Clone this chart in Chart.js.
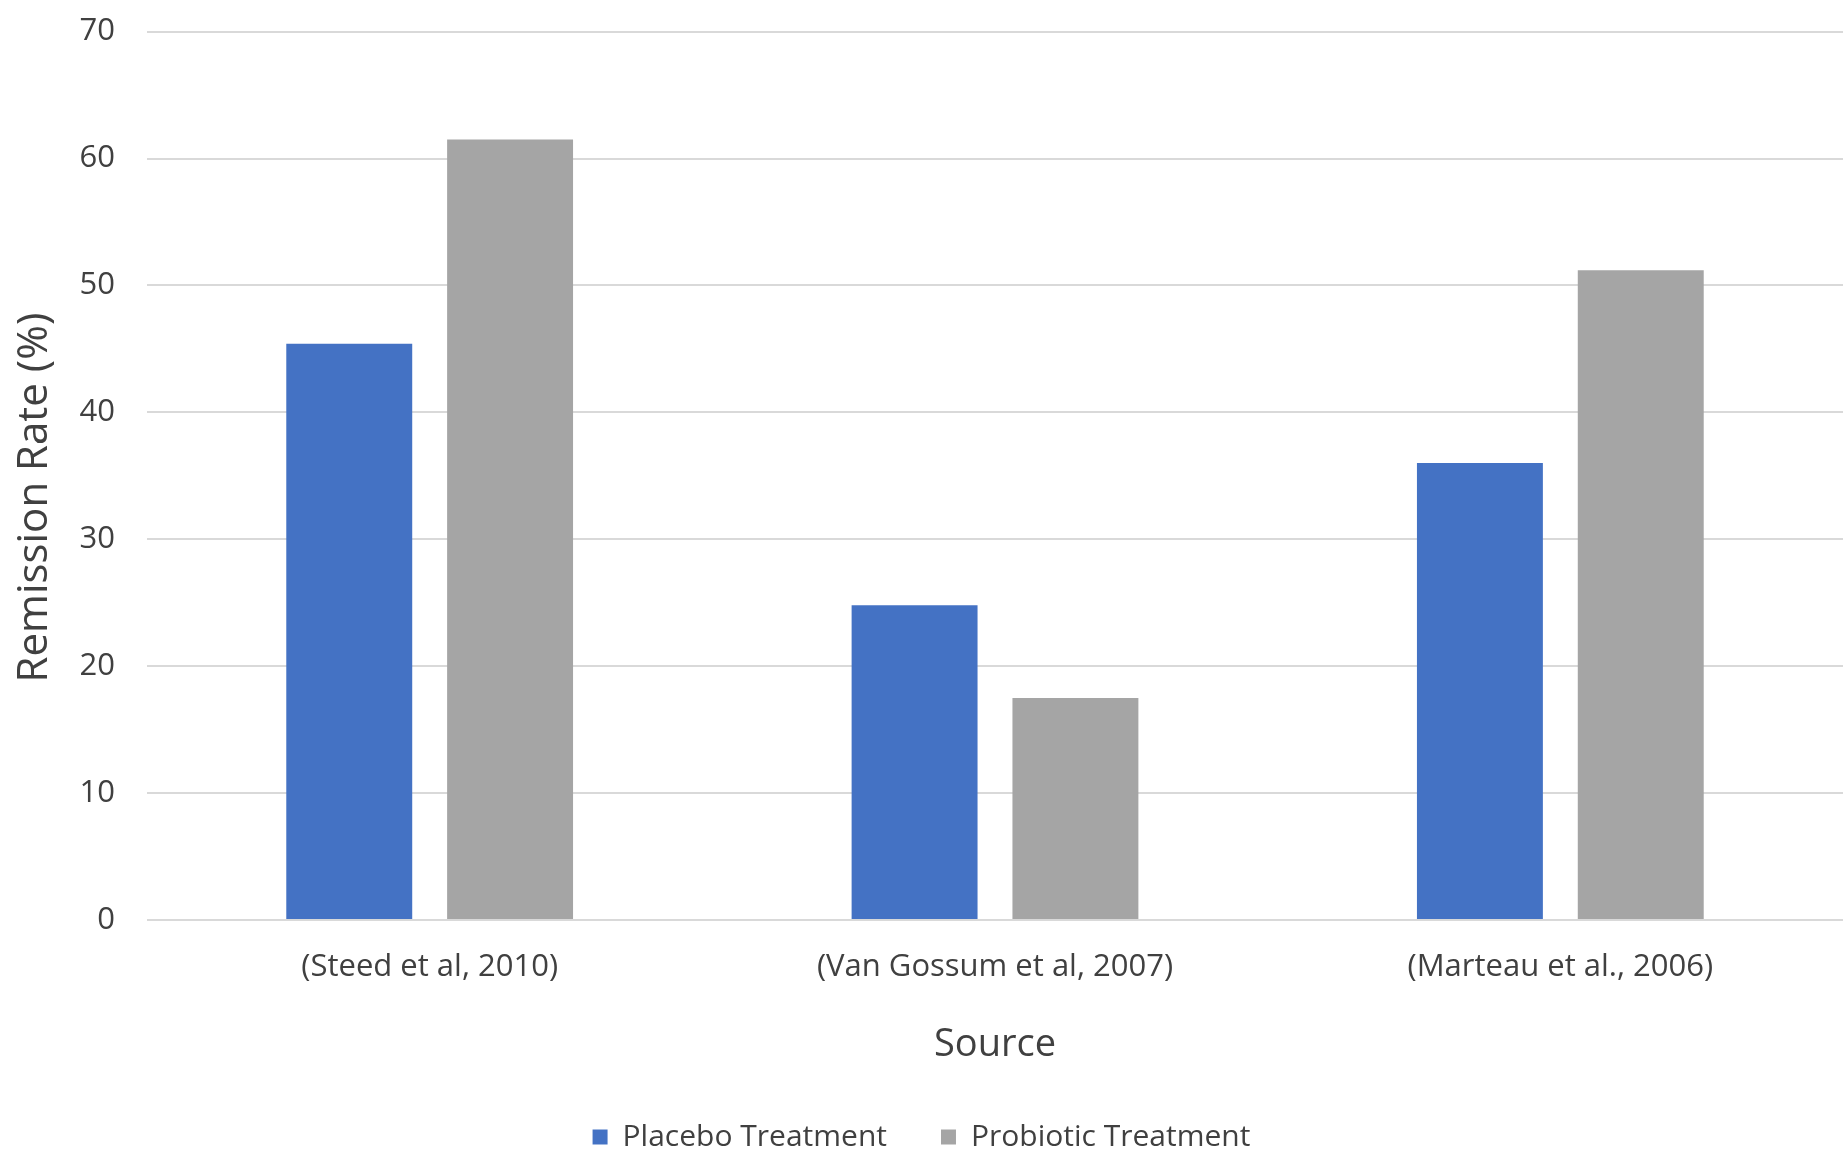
<!DOCTYPE html>
<html>
<head>
<meta charset="utf-8">
<script src="https://cdn.jsdelivr.net/npm/chart.js@4/dist/chart.umd.min.js"></script>
<style>
  html, body { margin: 0; padding: 0; background: #fff; overflow: hidden; }
  #remissionChart { display: block; margin-top: -19px; }
</style>
</head>
<body>
<canvas id="remissionChart" width="1843" height="1181"></canvas>
<script>
// values
const sources = ['(Steed et al, 2010)', '(Van Gossum et al, 2007)', '(Marteau et al., 2006)'];
const placeboRates = [45.4, 24.8, 36.0];
const probioticRates = [61.5, 17.5, 51.2];
const yTicks = [0, 10, 20, 30, 40, 50, 60, 70];

const textColor = '#404040';
const gridColor = '#d9d9d9';
const fontName = "'Open Sans', 'Liberation Sans', sans-serif";

const ctx = document.getElementById('remissionChart').getContext('2d');

const chartData = {
    labels: sources,
    datasets: [
        {
            label: 'Placebo Treatment',
            data: placeboRates,
            backgroundColor: '#4472c4',
            categoryPercentage: 0.569,
            barPercentage: 0.783
        },
        {
            label: 'Probiotic Treatment',
            data: probioticRates,
            backgroundColor: '#a5a5a5',
            categoryPercentage: 0.569,
            barPercentage: 0.783
        }
    ]
};

const config = {
    type: 'bar',
    data: chartData,
    options: {
        responsive: false,
        animation: false,
        layout: { padding: { left: 0, right: 0, top: 0, bottom: 0 } },
        plugins: {
            tooltip: { enabled: false },
            legend: {
                position: 'bottom',
                labels: {
                    color: textColor,
                    font: { family: fontName, size: 30 },
                    boxWidth: 15,
                    boxHeight: 15,
                    padding: 54
                }
            }
        },
        scales: {
            x: {
                grid: { display: false },
                border: { display: false },
                ticks: {
                    color: textColor,
                    font: { family: fontName, size: 31 },
                    padding: 21,
                    maxRotation: 0
                },
                title: {
                    display: true,
                    text: 'Source',
                    color: textColor,
                    font: { family: fontName, size: 38 },
                    padding: { top: 0, bottom: 0 }
                },
                afterFit: function(scale) { scale.height = 148; }
            },
            y: {
                min: 0,
                max: 70,
                afterBuildTicks: function(scale) {
                    scale.ticks = yTicks.map(v => ({ value: v }));
                },
                grid: { color: gridColor, lineWidth: 2, drawTicks: false },
                border: { display: false },
                ticks: {
                    color: textColor,
                    font: { family: fontName, size: 31 },
                    padding: 32
                },
                title: {
                    display: true,
                    // trailing spaces nudge the title a bit lower, as in the original
                    text: 'Remission Rate (%)    ',
                    color: textColor,
                    font: { family: fontName, size: 42 },
                    padding: { top: 10, bottom: 0 }
                },
                afterFit: function(scale) { scale.width = 147; }
            }
        }
    }
};

const remissionChart = new Chart(ctx, config);
</script>
</body>
</html>
